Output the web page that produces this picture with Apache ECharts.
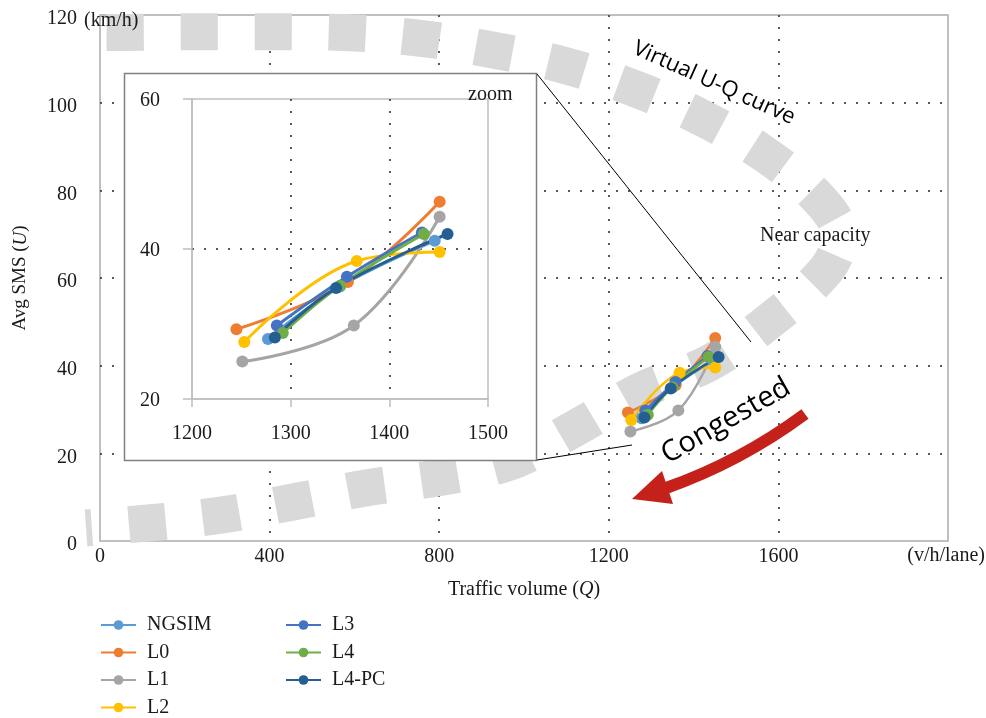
<!DOCTYPE html>
<html>
<head>
<meta charset="utf-8">
<title>Virtual U-Q curve</title>
<script src="https://cdn.jsdelivr.net/npm/echarts@6/dist/echarts.min.js"></script>
<style>
  html, body { margin: 0; padding: 0; background: #fff; }
  #chart { width: 986px; height: 718px; }
</style>
</head>
<body>
<div id="chart"></div>
<script>
// series names + colours (Office palette)
const seriesNames = ['NGSIM', 'L0', 'L1', 'L2', 'L3', 'L4', 'L4-PC']
const seriesColors = ['#5B9BD5', '#ED7D31', '#A5A5A5', '#FFC000', '#4472C4', '#70AD47', '#255E91']

// traffic volume Q (v/h/lane) and average SMS U (km/h)
const qNGSIM = [1277, 1350, 1446]
const uNGSIM = [28.0, 35.0, 41.1]
const qL0 = [1245, 1358, 1451]
const uL0 = [29.3, 35.6, 46.3]
const qL1 = [1251, 1364, 1451]
const uL1 = [25.0, 29.8, 44.3]
const qL2 = [1253, 1367, 1451]
const uL2 = [27.6, 38.4, 39.6]
const qL3 = [1286, 1357, 1433]
const uL3 = [29.8, 36.3, 42.2]
const qL4 = [1292, 1350, 1435]
const uL4 = [28.8, 35.1, 42.0]
const qL4PC = [1284, 1346, 1459]
const uL4PC = [28.2, 34.8, 42.0]

// sketched "virtual" U-Q curve
const curveQ = [-33, 113, 285, 455, 627, 796, 966, 1126, 1279, 1437, 1583, 1713, 1744, 1697, 1562, 1414, 1256, 1089, 921, 747, 573, 398, 224, 52, 0]
const curveU = [3.0, 4.1, 5.9, 8.9, 12.1, 14.4, 18.0, 26.0, 34.5, 40.6, 50.5, 61.9, 69.6, 77.9, 88.6, 96.8, 103.4, 108.7, 112.1, 114.8, 116.0, 116.2, 116.2, 116.0, 116.0]

// tick labels
const xTicks = [0, 400, 800, 1200, 1600, 2000]
const yTicks = [0, 20, 40, 60, 80, 100, 120]
const zoomXTicks = [1200, 1300, 1400, 1500]
const zoomYTicks = [20, 40, 60]

const qList = [qNGSIM, qL0, qL1, qL2, qL3, qL4, qL4PC]
const uList = [uNGSIM, uL0, uL1, uL2, uL3, uL4, uL4PC]

const serif = 'Liberation Serif'
const ink = '#1a1a1a'
const frame = '#bfbfbf'
const dotted = { color: '#595959', width: 2, type: [2, 10] }

const pairs = (xs, ys) => xs.map((x, i) => [x, ys[i]])

const chart = echarts.init(document.getElementById('chart'))

const dataSeries = []
seriesNames.forEach((name, i) => {
  // main plot
  dataSeries.push({
    name: name,
    type: 'line',
    xAxisIndex: 0,
    yAxisIndex: 0,
    data: pairs(qList[i], uList[i]),
    smooth: 0.4,
    symbol: 'circle',
    symbolSize: 12,
    lineStyle: { color: seriesColors[i], width: 2.5 },
    itemStyle: { color: seriesColors[i] },
    z: 3
  })
  // zoomed inset
  dataSeries.push({
    name: name,
    type: 'line',
    xAxisIndex: 1,
    yAxisIndex: 1,
    data: pairs(qList[i], uList[i]),
    smooth: 0.4,
    symbol: 'circle',
    symbolSize: 12,
    lineStyle: { color: seriesColors[i], width: 3 },
    itemStyle: { color: seriesColors[i] },
    z: 10
  })
})

const legendText = { fontFamily: serif, fontSize: 20, color: ink, lineHeight: 20, padding: [0, 0, 0, 6] }
const legendBase = {
  orient: 'vertical',
  top: 615,
  height: 110,
  padding: 0,
  itemWidth: 35,
  itemHeight: 12,
  itemGap: 7.5,
  textStyle: legendText
}

const option = {
  animation: false,
  backgroundColor: '#fff',
  legend: [
    Object.assign({ data: seriesNames.slice(0, 4), left: 100 }, legendBase),
    Object.assign({ data: seriesNames.slice(4), left: 285 }, legendBase)
  ],
  grid: [
    {
      left: 100, top: 15, right: 38, bottom: 177,
      show: true, borderColor: frame, borderWidth: 2
    },
    {
      left: 192, top: 99, width: 296, height: 300,
      show: true, borderColor: frame, borderWidth: 1.5, z: 6
    }
  ],
  xAxis: [
    {
      type: 'value',
      gridIndex: 0,
      min: xTicks[0],
      max: xTicks[xTicks.length - 1],
      interval: 400,
      axisLine: { show: false },
      axisTick: { show: false },
      axisLabel: {
        margin: 6,
        fontFamily: serif, fontSize: 20, color: ink,
        formatter: (v) => (v === 2000 ? '' : String(v))
      },
      splitLine: { show: true, showMinLine: false, showMaxLine: false, lineStyle: dotted },
      name: 'Traffic volume ({i|Q})',
      nameLocation: 'middle',
      nameGap: 39,
      nameTextStyle: {
        fontFamily: serif, fontSize: 20, color: ink,
        rich: { i: { fontFamily: serif, fontSize: 20, fontStyle: 'italic', color: ink } }
      }
    },
    {
      type: 'value',
      gridIndex: 1,
      z: 6,
      min: zoomXTicks[0],
      max: zoomXTicks[zoomXTicks.length - 1],
      interval: 100,
      axisLine: { show: true, lineStyle: { color: frame, width: 1.5 } },
      axisTick: { show: true, length: 8, lineStyle: { color: frame, width: 1.5 } },
      axisLabel: { margin: 25, fontFamily: serif, fontSize: 20, color: ink, formatter: (v) => String(v) },
      splitLine: { show: true, showMinLine: false, showMaxLine: false, lineStyle: dotted }
    }
  ],
  yAxis: [
    {
      type: 'value',
      gridIndex: 0,
      min: yTicks[0],
      max: yTicks[yTicks.length - 1],
      interval: 20,
      axisLine: { show: false },
      axisTick: { show: false },
      // labels sit a few px below their grid line, as in the original
      axisLabel: { margin: 23, verticalAlign: 'top', lineHeight: 8, fontFamily: serif, fontSize: 20, color: ink },
      splitLine: { show: true, showMinLine: false, showMaxLine: false, lineStyle: dotted },
      name: 'Avg SMS ({i|U})',
      nameLocation: 'middle',
      nameGap: 70,
      nameRotate: 90,
      nameTextStyle: {
        fontFamily: serif, fontSize: 19, color: ink,
        rich: { i: { fontFamily: serif, fontSize: 19, fontStyle: 'italic', color: ink } }
      }
    },
    {
      type: 'value',
      gridIndex: 1,
      z: 6,
      min: zoomYTicks[0],
      max: zoomYTicks[zoomYTicks.length - 1],
      interval: 20,
      axisLine: { show: true, lineStyle: { color: frame, width: 1.5 } },
      axisTick: { show: true, length: 9, lineStyle: { color: frame, width: 1.5 } },
      axisLabel: { margin: 32, verticalAlign: 'top', lineHeight: 4, fontFamily: serif, fontSize: 20, color: ink },
      splitLine: { show: true, showMinLine: false, showMaxLine: false, lineStyle: dotted }
    }
  ],
  series: [
    {
      type: 'line',
      xAxisIndex: 0,
      yAxisIndex: 0,
      data: pairs(curveQ, curveU),
      smooth: 0.35,
      symbol: 'none',
      clip: false,
      silent: true,
      lineStyle: { color: '#d9d9d9', width: 37, type: [37, 37], dashOffset: 31, cap: 'butt' },
      z: 1
    }
  ].concat(dataSeries),
  graphic: [
    // inset frame
    {
      type: 'rect', z: 5, silent: true,
      shape: { x: 124.5, y: 73.5, width: 412, height: 387 },
      style: { fill: '#fff', stroke: '#808080', lineWidth: 1.5 }
    },
    {
      type: 'line', z: 5, silent: true,
      shape: { x1: 537, y1: 74, x2: 751, y2: 342 },
      style: { stroke: '#000', lineWidth: 1 }
    },
    {
      type: 'line', z: 5, silent: true,
      shape: { x1: 537, y1: 460, x2: 632, y2: 445 },
      style: { stroke: '#000', lineWidth: 1 }
    },
    {
      type: 'text', z: 20, silent: true, x: 468, y: 95,
      style: { text: 'zoom', font: '20px "Liberation Serif"', fill: ink, verticalAlign: 'middle' }
    },
    {
      type: 'text', z: 20, silent: true, x: 84, y: 21,
      style: { text: '(km/h)', font: '20px "Liberation Serif"', fill: ink, verticalAlign: 'middle' }
    },
    {
      type: 'text', z: 20, silent: true, x: 985, y: 556,
      style: { text: '(v/h/lane)', font: '20px "Liberation Serif"', fill: ink, align: 'right', verticalAlign: 'middle' }
    },
    {
      type: 'text', z: 20, silent: true, x: 760, y: 236,
      style: { text: 'Near capacity', font: '20px "Liberation Serif"', fill: ink, verticalAlign: 'middle' }
    },
    {
      type: 'text', z: 20, silent: true, x: 714, y: 83, rotation: -0.42,
      style: { text: 'Virtual U-Q curve', font: '22px "Open Sans"', fill: '#000', align: 'center', verticalAlign: 'middle' }
    },
    {
      type: 'text', z: 20, silent: true, x: 726, y: 421, rotation: 0.52,
      style: { text: 'Congested', font: '29px "Open Sans"', fill: '#000', align: 'center', verticalAlign: 'middle' }
    },
    // red arrow
    {
      type: 'bezierCurve', z: 20, silent: true,
      shape: { x1: 805, y1: 414, cpx1: 740, cpy1: 462, x2: 666, y2: 488 },
      style: { stroke: '#C5211B', lineWidth: 12, fill: null }
    },
    {
      type: 'polygon', z: 20, silent: true,
      shape: { points: [[632, 499], [673, 504], [662, 471]] },
      style: { fill: '#C5211B' }
    }
  ]
}

chart.setOption(option)
</script>
</body>
</html>
